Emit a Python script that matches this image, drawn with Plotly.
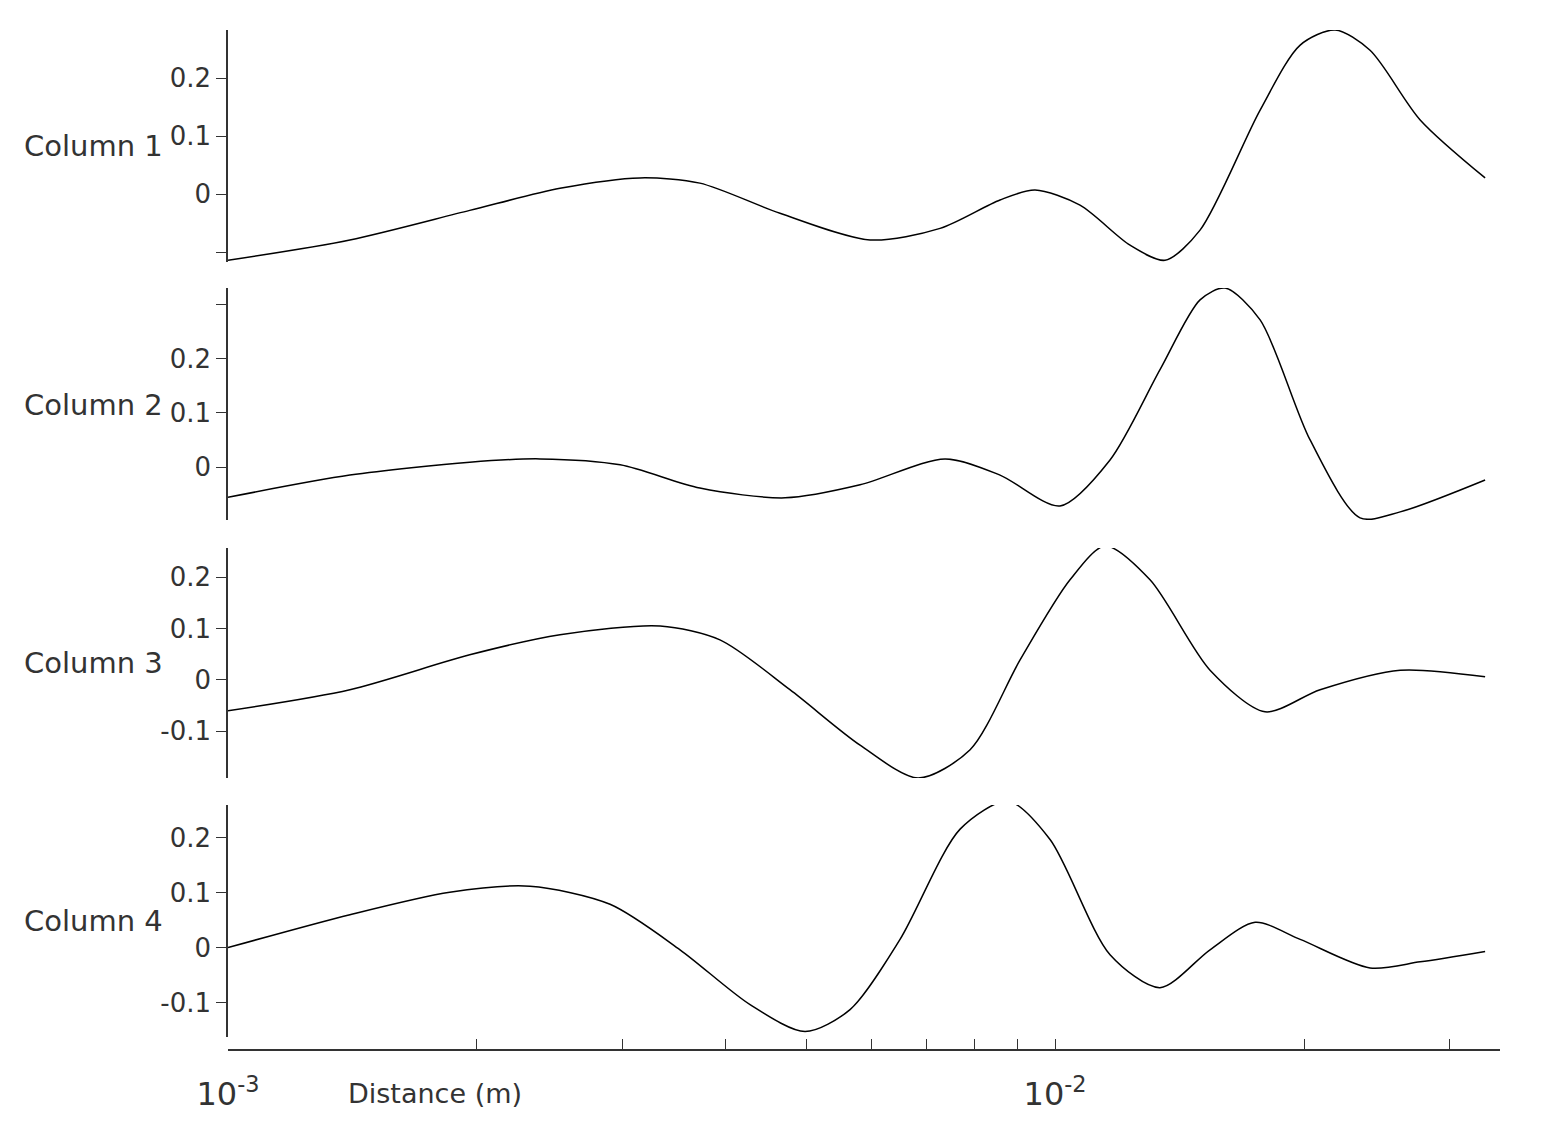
import plotly.graph_objects as go

labels = ["Column 1", "Column 2", "Column 3", "Column 4"]

x1 = [0.001, 0.001404, 0.00196, 0.00252, 0.003148, 0.00372, 0.00465, 0.005975, 0.007261, 0.00858, 0.009458,
      0.010719, 0.012322, 0.013583, 0.014973, 0.0177, 0.019787, 0.021809, 0.024037, 0.027636, 0.033113]
y1 = [-0.114, -0.079, -0.028, 0.010, 0.028, 0.019, -0.033, -0.079, -0.059, -0.010, 0.007,
      -0.019, -0.088, -0.114, -0.062, 0.145, 0.257, 0.283, 0.248, 0.128, 0.028]

x2 = [0.001, 0.001404, 0.00196, 0.002384, 0.00298, 0.00372, 0.004716, 0.005811, 0.007362, 0.00858, 0.010139,
      0.011654, 0.013394, 0.014973, 0.016056, 0.0177, 0.020342, 0.023377, 0.02614, 0.033113]
y2 = [-0.056, -0.015, 0.009, 0.015, 0.004, -0.039, -0.057, -0.033, 0.015, -0.015, -0.072,
      0.013, 0.180, 0.309, 0.331, 0.272, 0.050, -0.094, -0.083, -0.024]

x3 = [0.001, 0.001404, 0.00196, 0.00252, 0.00333, 0.003934, 0.00478, 0.005811, 0.006829, 0.007894, 0.009072,
      0.010425, 0.011494, 0.013027, 0.015396, 0.017945, 0.020916, 0.02614, 0.033113]
y3 = [-0.060, -0.019, 0.049, 0.088, 0.105, 0.078, -0.019, -0.127, -0.191, -0.136, 0.039,
      0.195, 0.261, 0.195, 0.019, -0.062, -0.019, 0.019, 0.006]

x4 = [0.001, 0.001404, 0.001854, 0.002318, 0.002897, 0.00352, 0.004278, 0.004986, 0.005651, 0.006495, 0.007677,
      0.008774, 0.009862, 0.011654, 0.013394, 0.015396, 0.017455, 0.019787, 0.024037, 0.027636, 0.033113]
y4 = [0.0, 0.060, 0.101, 0.112, 0.079, -0.004, -0.104, -0.153, -0.113, 0.015, 0.216,
      0.267, 0.197, -0.013, -0.073, -0.004, 0.046, 0.015, -0.037, -0.026, -0.007]

xs = [x1, x2, x3, x4]
ys = [y1, y2, y3, y4]
yranges = [[-0.117, 0.283], [-0.098, 0.331], [-0.191, 0.257], [-0.163, 0.26]]
ytickvals = [[-0.1, 0, 0.1, 0.2], [0, 0.1, 0.2, 0.3], [-0.1, 0, 0.1, 0.2], [-0.1, 0, 0.1, 0.2]]
yticktext = [["", "0", "0.1", "0.2"], ["0", "0.1", "0.2", ""], ["-0.1", "0", "0.1", "0.2"], ["-0.1", "0", "0.1", "0.2"]]

xtickvals = [0.001, 0.002, 0.003, 0.004, 0.005, 0.006, 0.007, 0.008, 0.009, 0.01, 0.02, 0.03]
xticktext = ["10<sup>-3</sup>", "", "", "", "", "", "", "", "", "10<sup>-2</sup>", "", ""]
xrange_ = [-3, -1.462]

OFF = 8
W, H = 1541 - OFF, 1142 - OFF
L, R = 228 - OFF, 1500 - OFF
PW = R - L


def fy(p):
    return 1 - (p - OFF) / H


def fx(p):
    return (p - 228) / PW


panel_px = [(30, 262), (288, 520), (548, 778), (805, 1037)]
domains = [[fy(b), fy(t)] for t, b in panel_px]
label_y = [146, 405, 663, 921]

font = dict(family="DejaVu Sans", color="#333333")
fig = go.Figure()
layout = dict(width=W, height=H, margin=dict(l=L, r=W - R, t=0, b=0),
              plot_bgcolor="white", paper_bgcolor="white", showlegend=False, font=font)
annotations = []
for i in range(4):
    n = "" if i == 0 else str(i + 1)
    fig.add_trace(go.Scatter(x=xs[i], y=ys[i], mode="lines", cliponaxis=False,
                             line=dict(color="black", width=1.5, shape="spline", smoothing=0.8),
                             xaxis="x" + n, yaxis="y" + n))
    xa = dict(type="log", range=xrange_, domain=[0, 1], anchor="y" + n, showgrid=False, zeroline=False)
    if i < 3:
        xa.update(visible=False)
    else:
        xa.update(anchor="free", position=fy(1050), showline=True, linecolor="#333", linewidth=2,
                  ticks="inside", ticklen=10, tickcolor="#333", tickvals=xtickvals, ticktext=xticktext,
                  tickfont=dict(size=32, color="#333"), ticklabelstandoff=16)
    layout["xaxis" + n] = xa
    layout["yaxis" + n] = dict(range=yranges[i], domain=domains[i], anchor="x" + n, showline=True,
                               linecolor="#333", linewidth=1.5, ticks="outside", ticklen=10, tickcolor="#333",
                               tickvals=ytickvals[i], ticktext=yticktext[i], showgrid=False, zeroline=False,
                               tickfont=dict(size=26, color="#333"), ticklabelstandoff=0)
    annotations.append(dict(text=labels[i], xref="paper", yref="paper", x=fx(22),
                            y=fy(label_y[i]), xanchor="left", yanchor="middle", showarrow=False,
                            font=dict(size=29, color="#333")))
annotations.append(dict(text="Distance (m)", xref="paper", yref="paper", x=fx(346),
                        y=fy(1093), xanchor="left", yanchor="middle", showarrow=False,
                        font=dict(size=27, color="#333")))
layout["annotations"] = annotations
fig.update_layout(**layout)
fig.write_html("out.html")
